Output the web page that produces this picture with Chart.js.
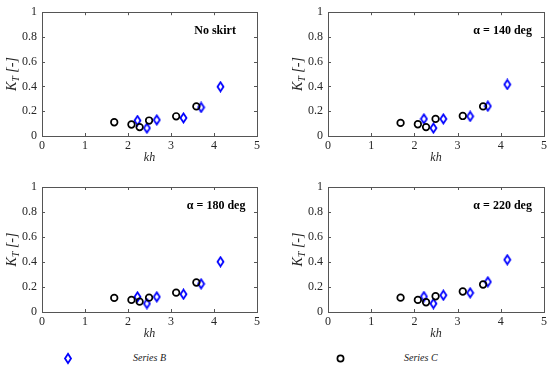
<!DOCTYPE html>
<html>
<head>
<meta charset="utf-8">
<script src="https://cdn.jsdelivr.net/npm/chart.js@4"></script>
<style>
  body { margin: 0; background: #fff; }
  #wrap { position: relative; width: 550px; height: 369px; overflow: hidden; }
  canvas.panel { position: absolute; }
  .leg { position: absolute; font: italic 10px "Liberation Serif", serif; color: #222; }
</style>
</head>
<body>
<div id="wrap">
  <canvas class="panel" id="c1" width="275" height="165" style="left:0;top:0"></canvas>
  <canvas class="panel" id="c2" width="275" height="165" style="left:275px;top:0"></canvas>
  <canvas class="panel" id="c3" width="275" height="180" style="left:0;top:165px"></canvas>
  <canvas class="panel" id="c4" width="275" height="180" style="left:275px;top:165px"></canvas>

  <svg style="position:absolute;left:63px;top:352px" width="10" height="13">
    <path d="M5 1.8 L8 6.5 L5 11.2 L2 6.5 Z" fill="none" stroke="#0000ff" stroke-width="1.8"/>
  </svg>
  <div class="leg" style="left:133px;top:352px">Series B</div>
  <svg style="position:absolute;left:335px;top:353px" width="11" height="11">
    <circle cx="5.5" cy="5.5" r="3.1" fill="none" stroke="#000" stroke-width="1.7"/>
  </svg>
  <div class="leg" style="left:404px;top:352px">Series C</div>
</div>
<script>
// kh positions (same for every panel)
const khC = [1.68, 2.08, 2.27, 2.49, 3.12, 3.59];
const khB = [2.22, 2.44, 2.67, 3.29, 3.70, 4.15];

// KT values per panel
const noSkirtC = [0.111, 0.093, 0.072, 0.125, 0.159, 0.239];
const noSkirtB = [0.125, 0.064, 0.130, 0.146, 0.231, 0.398];
const a140C = [0.106, 0.095, 0.072, 0.138, 0.162, 0.239];
const a140B = [0.138, 0.064, 0.138, 0.159, 0.241, 0.416];
const a180C = [0.113, 0.097, 0.083, 0.115, 0.155, 0.236];
const a180B = [0.121, 0.067, 0.121, 0.142, 0.225, 0.402];
const a220C = [0.115, 0.097, 0.078, 0.126, 0.164, 0.220];
const a220B = [0.123, 0.067, 0.134, 0.153, 0.241, 0.418];

const panelLabels = ["No skirt", "\u03B1 = 140 deg", "\u03B1 = 180 deg", "\u03B1 = 220 deg"];
const xTicks = [0, 1, 2, 3, 4, 5];
const yTicks = [0, 0.2, 0.4, 0.6, 0.8, 1];
const yTickLabels = ["0", "0.2", "0.4", "0.6", "0.8", "1"];

const FONT = "'Liberation Serif', 'Times New Roman', serif";

// narrow blue diamond used as point style
const diamond = document.createElement("canvas");
diamond.width = 9;
diamond.height = 12;
(function () {
  const g = diamond.getContext("2d");
  g.strokeStyle = "#0000ff";
  g.lineWidth = 1.8;
  g.beginPath();
  g.moveTo(4.5, 1.5);
  g.lineTo(7.5, 6);
  g.lineTo(4.5, 10.5);
  g.lineTo(1.5, 6);
  g.closePath();
  g.stroke();
})();

function toPoints(xs, ys) {
  return xs.map((x, i) => ({ x: x, y: ys[i] }));
}

// frame, inward ticks, axis titles and panel label
const decor = {
  id: "decor",
  afterDraw(chart, args, opts) {
    const ctx = chart.ctx;
    const a = chart.chartArea;
    const xs = chart.scales.x, ys = chart.scales.y;
    ctx.save();
    ctx.strokeStyle = "#555";
    ctx.lineWidth = 1;
    ctx.strokeRect(Math.round(a.left) + 0.5, Math.round(a.top) + 0.5,
      Math.round(a.right - a.left), Math.round(a.bottom - a.top));
    ctx.beginPath();
    xTicks.forEach(v => {
      const p = Math.round(xs.getPixelForValue(v)) + 0.5;
      ctx.moveTo(p, a.bottom); ctx.lineTo(p, a.bottom - 3);
      ctx.moveTo(p, a.top); ctx.lineTo(p, a.top + 3);
    });
    yTicks.forEach(v => {
      const p = Math.round(ys.getPixelForValue(v)) + 0.5;
      ctx.moveTo(a.left, p); ctx.lineTo(a.left + 3, p);
      ctx.moveTo(a.right, p); ctx.lineTo(a.right - 3, p);
    });
    ctx.stroke();

    // x title
    ctx.fillStyle = "#262626";
    ctx.font = "italic 12px " + FONT;
    ctx.textAlign = "center";
    ctx.textBaseline = "middle";
    ctx.fillText("kh", (a.left + a.right) / 2, a.bottom + 22);

    // y title K_T [-]
    ctx.translate(a.left - 30, (a.top + a.bottom) / 2);
    ctx.rotate(-Math.PI / 2);
    ctx.textAlign = "left";
    ctx.font = "italic 14px " + FONT;
    const wK = ctx.measureText("K").width;
    ctx.font = "italic 10px " + FONT;
    const wT = ctx.measureText("T").width;
    ctx.font = "italic 14px " + FONT;
    const wR = ctx.measureText(" [-]").width;
    let x0 = -(wK + wT + wR) / 2;
    ctx.fillText("K", x0, 0);
    ctx.font = "italic 10px " + FONT;
    ctx.fillText("T", x0 + wK, 4);
    ctx.font = "italic 14px " + FONT;
    ctx.fillText(" [-]", x0 + wK + wT, 0);
    ctx.restore();

    // panel label
    ctx.save();
    ctx.fillStyle = "#000";
    ctx.font = "bold 12px " + FONT;
    ctx.textAlign = "right";
    ctx.textBaseline = "middle";
    ctx.fillText(opts.text, xs.getPixelForValue(opts.x), ys.getPixelForValue(0.85));
    ctx.restore();
  }
};

function makePanel(id, seriesC, seriesB, label, labelX, yWidth, padTop, xHeight, padRight) {
  new Chart(document.getElementById(id), {
    type: "scatter",
    data: {
      datasets: [
        {
          label: "Series C",
          data: toPoints(khC, seriesC),
          pointStyle: "circle",
          pointRadius: 3.3,
          borderWidth: 1.7,
          borderColor: "#000",
          backgroundColor: "rgba(0,0,0,0)"
        },
        {
          label: "Series B",
          data: toPoints(khB, seriesB),
          pointStyle: diamond,
          pointRadius: 5
        }
      ]
    },
    options: {
      responsive: false,
      animation: false,
      layout: { padding: { top: padTop, right: padRight, left: 0, bottom: 0 } },
      plugins: {
        legend: { display: false },
        tooltip: { enabled: false },
        decor: { text: label, x: labelX }
      },
      scales: {
        x: {
          type: "linear",
          min: 0, max: 5,
          afterFit: s => { s.height = xHeight; },
          afterBuildTicks: s => { s.ticks = xTicks.map(v => ({ value: v })); },
          grid: { display: false, drawTicks: false, tickLength: 0 },
          border: { display: false },
          ticks: { color: "#262626", font: { family: FONT, size: 12 }, padding: 3, maxRotation: 0 }
        },
        y: {
          min: 0, max: 1,
          afterFit: s => { s.width = yWidth; },
          afterBuildTicks: s => { s.ticks = yTicks.map(v => ({ value: v })); },
          grid: { display: false, drawTicks: false, tickLength: 0 },
          border: { display: false },
          ticks: {
            color: "#262626", font: { family: FONT, size: 12 }, padding: 5,
            callback: (v, i) => yTickLabels[i]
          }
        }
      }
    },
    plugins: [decor]
  });
}

makePanel("c1", noSkirtC, noSkirtB, panelLabels[0], 4.51, 42, 10, 29, 18);
makePanel("c2", a140C, a140B, panelLabels[1], 4.72, 53, 10, 29, 6);
makePanel("c3", a180C, a180B, panelLabels[2], 4.73, 42, 22, 33, 18);
makePanel("c4", a220C, a220B, panelLabels[3], 4.72, 53, 22, 33, 6);
</script>
</body>
</html>
